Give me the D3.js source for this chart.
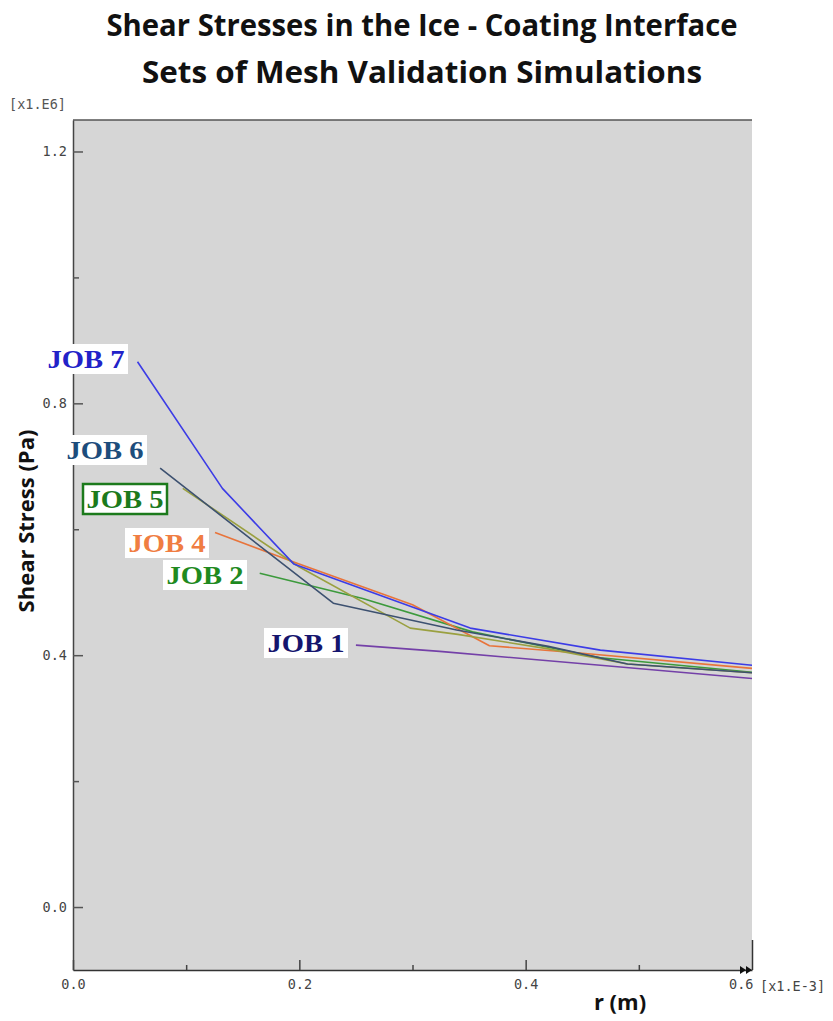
<!DOCTYPE html>
<html><head><meta charset="utf-8">
<script src="https://cdn.jsdelivr.net/npm/d3@7"></script>
<style>body{margin:0;background:#fff}svg{display:block}</style>
</head><body>
<svg id="chart" width="833" height="1021"></svg>
<script>
// ---- data (r in 1e-3 m, stress in 1e6 Pa) ----
const jobNames = ["JOB 1","JOB 2","JOB 4","JOB 5","JOB 6","JOB 7"];
const job1R = [0.25, 0.324, 0.466, 0.6];
const job1S = [0.416, 0.406, 0.384, 0.363];
const job2R = [0.165, 0.256, 0.353, 0.466, 0.6];
const job2S = [0.530, 0.490, 0.437, 0.396, 0.373];
const job4R = [0.1255, 0.198, 0.30, 0.368, 0.45, 0.6];
const job4S = [0.595, 0.546, 0.480, 0.415, 0.403, 0.379];
const job5R = [0.097, 0.20, 0.298, 0.34, 0.42, 0.49, 0.6];
const job5S = [0.665, 0.540, 0.443, 0.433, 0.410, 0.386, 0.372];
const job6R = [0.077, 0.23, 0.339, 0.42, 0.49, 0.6];
const job6S = [0.697, 0.4825, 0.440, 0.414, 0.386, 0.372];
const job7R = [0.057, 0.132, 0.195, 0.351, 0.466, 0.6];
const job7S = [0.866, 0.665, 0.545, 0.443, 0.408, 0.384];
const yMajorTicks = [0.0, 0.4, 0.8, 1.2];
const yMinorTicks = [0.2, 0.6, 1.0];
const xMajorTicks = [0.0, 0.2, 0.4, 0.6];
const xMinorTicks = [0.1, 0.3, 0.5];
const titleLines = ["Shear Stresses in the Ice - Coating Interface", "Sets of Mesh Validation Simulations"];

const series = [
  {name:"JOB 1", r:job1R, s:job1S, line:"#7440a8", text:"#15156e", lx:306, ly:643, box:false},
  {name:"JOB 2", r:job2R, s:job2S, line:"#3c9a3c", text:"#1f8a1f", lx:205, ly:575, box:false},
  {name:"JOB 4", r:job4R, s:job4S, line:"#e8743b", text:"#f07d42", lx:167, ly:543, box:false},
  {name:"JOB 5", r:job5R, s:job5S, line:"#9aa040", text:"#1c7a1c", lx:125, ly:499, box:true},
  {name:"JOB 6", r:job6R, s:job6S, line:"#3d5170", text:"#1d4d7c", lx:105, ly:450, box:false},
  {name:"JOB 7", r:job7R, s:job7S, line:"#3c3ce6", text:"#2222c8", lx:86, ly:359, box:false}
];

const svg = d3.select("#chart");
const x = d3.scaleLinear().domain([0, 0.6]).range([73, 752]);
const y = d3.scaleLinear().domain([-0.1, 1.25]).range([970, 120]);

// plot background
svg.append("rect").attr("x", x(0)).attr("y", y(1.25))
  .attr("width", x(0.6) - x(0)).attr("height", y(-0.1) - y(1.25)).attr("fill", "#d6d6d6");
// top border
svg.append("line").attr("x1", x(0)).attr("x2", x(0.6)).attr("y1", y(1.25)).attr("y2", y(1.25))
  .attr("stroke", "#555").attr("stroke-width", 1.5);

// titles
svg.selectAll("text.title").data(titleLines).join("text")
  .attr("class","title").attr("x", 422).attr("y", (d,i)=> i===0 ? 36 : 83)
  .attr("text-anchor","middle")
  .attr("font-family","'Open Sans', sans-serif").attr("font-weight","bold")
  .attr("font-size", 31).attr("fill","#111")
  .attr("textLength", (d,i)=> i===0 ? 631 : 560).attr("lengthAdjust","spacingAndGlyphs")
  .text(d=>d);

const tickFont = "'DejaVu Sans Mono', 'Liberation Mono', monospace";

// y axis
const yAxis = svg.append("g").attr("transform", `translate(${x(0)},0)`)
  .call(d3.axisLeft(y).tickValues(yMajorTicks).tickSizeInner(-10).tickSizeOuter(0).tickPadding(6).tickFormat(d3.format(".1f")));
yAxis.select(".domain").attr("stroke","#444").attr("stroke-width",1.5);
yAxis.selectAll(".tick line").attr("stroke","#555").attr("stroke-width",1.5);
yAxis.selectAll(".tick text").attr("font-family",tickFont).attr("font-size",13.5).attr("fill","#444");
const yMinor = svg.append("g").attr("transform", `translate(${x(0)},0)`)
  .call(d3.axisLeft(y).tickValues(yMinorTicks).tickSizeInner(-6).tickSizeOuter(0).tickFormat(""));
yMinor.select(".domain").remove();
yMinor.selectAll(".tick line").attr("stroke","#555").attr("stroke-width",1.5);

// x axis
const xAxis = svg.append("g").attr("transform", `translate(0,${y(-0.1)})`)
  .call(d3.axisBottom(x).tickValues(xMajorTicks).tickSizeInner(-10).tickSizeOuter(0).tickPadding(9).tickFormat(d3.format(".1f")));
xAxis.select(".domain").attr("stroke","#333").attr("stroke-width",1.5);
xAxis.selectAll(".tick line").attr("stroke","#444").attr("stroke-width",1.5);
xAxis.selectAll(".tick text").attr("font-family",tickFont).attr("font-size",13.5).attr("fill","#444");
xAxis.selectAll(".tick").filter(d => d === 0.6).select("text").attr("text-anchor","end").attr("x", 1);
xAxis.selectAll(".tick").filter(d => d === 0.6).select("line").attr("y2", -30).attr("stroke","#333");
const xMinor = svg.append("g").attr("transform", `translate(0,${y(-0.1)})`)
  .call(d3.axisBottom(x).tickValues(xMinorTicks).tickSizeInner(-5).tickSizeOuter(0).tickFormat(""));
xMinor.select(".domain").remove();
xMinor.selectAll(".tick line").attr("stroke","#444").attr("stroke-width",1.5);

// double arrow at end of x axis
[0, 6].forEach(off => {
  const ax = x(0.6) - 12 + off;
  svg.append("path").attr("d", `M${ax},${y(-0.1)-4}L${ax+6},${y(-0.1)}L${ax},${y(-0.1)+4}Z`).attr("fill","#111");
});

// multipliers
svg.append("text").attr("x", 9).attr("y", 109).attr("font-family",tickFont).attr("font-size",13.5).attr("fill","#555").text("[x1.E6]");
svg.append("text").attr("x", 760).attr("y", y(-0.1)+21).attr("font-family",tickFont).attr("font-size",13.5).attr("fill","#444").text("[x1.E-3]");

// axis titles
svg.append("text").attr("transform", "translate(34,521) rotate(-90)").attr("text-anchor","middle")
  .attr("font-family","'Open Sans', sans-serif").attr("font-weight","bold").attr("font-size",22).attr("fill","#111")
  .text("Shear Stress (Pa)");
svg.append("text").attr("x", 620).attr("y", 1010).attr("text-anchor","middle")
  .attr("font-family","'Open Sans', sans-serif").attr("font-weight","bold").attr("font-size",22).attr("fill","#111")
  .text("r (m)");

// lines
const line = d3.line().x(d=>x(d[0])).y(d=>y(d[1]));
const g = svg.append("g");
series.forEach(sr => {
  const pts = sr.r.map((r,i)=>[r, sr.s[i]]);
  g.append("path").datum(pts).attr("d", line).attr("fill","none")
    .attr("stroke", sr.line).attr("stroke-width", 1.6).attr("stroke-linejoin","round");
});

// labels
series.forEach(sr => {
  const lg = svg.append("g");
  lg.append("text").attr("x", sr.lx).attr("y", sr.ly + 9).attr("text-anchor","middle")
    .attr("font-family","'Liberation Serif', 'Times New Roman', serif").attr("font-weight","bold")
    .attr("font-size", 26).attr("fill", sr.text).attr("textLength", 77).attr("lengthAdjust","spacingAndGlyphs")
    .text(sr.name);
  const w = 84, h = 30;
  lg.insert("rect","text").attr("x", sr.lx - w/2).attr("y", sr.ly - h/2).attr("width", w).attr("height", h)
    .attr("fill","#fff").attr("stroke", sr.box ? "#1c7a1c" : "none").attr("stroke-width", 2.5);
});
</script>
</body></html>
